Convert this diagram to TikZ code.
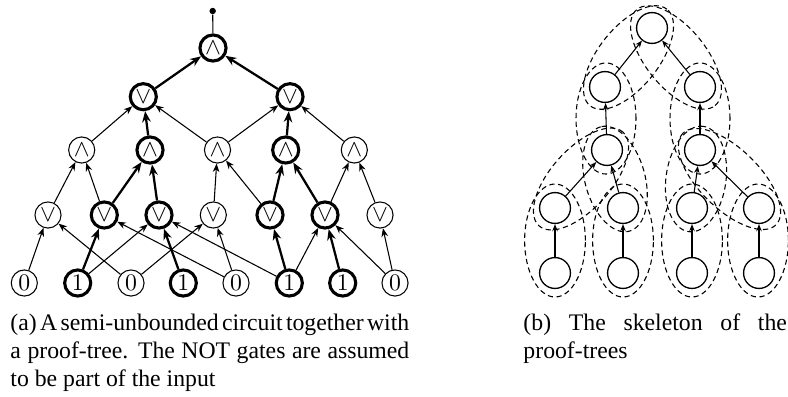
\documentclass[tikz,border=0pt]{standalone}
\usepackage{fontspec}
\setmainfont{Liberation Serif}
\usetikzlibrary{arrows.meta,calc}
\tikzset{
  gate/.style={circle, draw, line width=0.45pt, minimum size=11pt, inner sep=0pt},
  gatet/.style={gate, line width=1.3pt},
  wire/.style={line width=0.45pt, -{Stealth[length=3.6pt,width=2.8pt]}},
  wiret/.style={line width=0.95pt, -{Stealth[length=4.6pt,width=3.6pt]}},
  snode/.style={circle, draw, line width=0.55pt, minimum size=13pt, inner sep=0pt},
  swire/.style={line width=0.45pt, -{Stealth[length=3pt,width=2.3pt]}},
  skel/.style={line width=0.45pt, dash pattern=on 2.2pt off 1.5pt},
  captext/.style={anchor=north west, align=justify, inner sep=0pt, font=\fontsize{10}{11.9}\selectfont},
}
\newcommand\captsetup{\spaceskip=2.5pt plus 2pt minus 1.2pt\relax\hyphenpenalty=10000\relax}
\begin{document}
\begin{tikzpicture}[x=0.4213pt,y=-0.4213pt]
\useasboundingbox (0,0) rectangle (788,396);
% ---------------- (a) circuit ----------------
\node[gatet] (g0) at (213,48) {$\wedge$};
\node[circle, fill, inner sep=0pt, minimum size=2.7pt] (out) at (212.7,11) {};
\draw[line width=0.45pt] (g0) -- (out);
% level 2
\node[gatet] (o1) at (143.3,96.7) {$\vee$};
\node[gatet] (o2) at (290,96.7) {$\vee$};
% level 3
\node[gate]  (a1) at (81.7,150) {$\wedge$};
\node[gatet] (a2) at (150,150) {$\wedge$};
\node[gate]  (a3) at (217.5,150) {$\wedge$};
\node[gatet] (a4) at (285.7,150) {$\wedge$};
\node[gate]  (a5) at (354.3,150) {$\wedge$};
% level 4
\node[gate]  (v1) at (48,215) {$\vee$};
\node[gatet] (v2) at (104.3,215) {$\vee$};
\node[gatet] (v3) at (159,215) {$\vee$};
\node[gate]  (v4) at (213.3,215) {$\vee$};
\node[gatet] (v5) at (270,215) {$\vee$};
\node[gatet] (v6) at (325,215) {$\vee$};
\node[gate]  (v7) at (380,215) {$\vee$};
% inputs
\node[gate]  (i1) at (24.3,283) {$0$};
\node[gatet] (i2) at (77.7,283) {$1$};
\node[gate]  (i3) at (131,283) {$0$};
\node[gatet] (i4) at (183.3,283) {$1$};
\node[gate]  (i5) at (236,283) {$0$};
\node[gatet] (i6) at (289.3,283) {$1$};
\node[gatet] (i7) at (342.7,283) {$1$};
\node[gate]  (i8) at (395,283) {$0$};
% thick edges (proof tree)
\draw[wiret] (o1) -- (g0);
\draw[wiret] (o2) -- (g0);
\draw[wiret] (a2) -- (o1);
\draw[wiret] (a4) -- (o2);
\draw[wiret] (v2) -- (a2);
\draw[wiret] (v3) -- (a2);
\draw[wiret] (v5) -- (a4);
\draw[wiret] (v6) -- (a4);
\draw[wiret] (i2) -- (v2);
\draw[wiret] (i4) -- (v3);
\draw[wiret] (i6) -- (v5);
\draw[wiret] (i7) -- (v6);
% thin edges
\draw[wire] (a1) -- (o1);
\draw[wire] (a3) -- (o1);
\draw[wire] (a3) -- (o2);
\draw[wire] (a5) -- (o2);
\draw[wire] (v1) -- (a1);
\draw[wire] (v2) -- (a1);
\draw[wire] (v4) -- (a3);
\draw[wire] (v5) -- (a3);
\draw[wire] (v6) -- (a5);
\draw[wire] (v7) -- (a5);
\draw[wire] (i1) -- (v1);
\draw[wire] (i3) -- (v1);
\draw[wire] (i5) -- (v2);
\draw[wire] (i2) -- (v3);
\draw[wire] (i6) -- (v3);
\draw[wire] (i3) -- (v4);
\draw[wire] (i5) -- (v4);
\draw[wire] (i6) -- (v6);
\draw[wire] (i8) -- (v6);
\draw[wire] (i8) -- (v7);
% ---------------- (b) skeleton ----------------
\node[snode] (t)  at (652,28) {};
\node[snode] (b2a) at (605,87) {};
\node[snode] (b2b) at (700,87) {};
\node[snode] (b3a) at (607,150) {};
\node[snode] (b3b) at (700,150) {};
\node[snode] (b4a) at (555,208) {};
\node[snode] (b4b) at (623,208) {};
\node[snode] (b4c) at (692,208) {};
\node[snode] (b4d) at (759,208) {};
\node[snode] (b5a) at (555,273) {};
\node[snode] (b5b) at (623,273) {};
\node[snode] (b5c) at (692,273) {};
\node[snode] (b5d) at (759,273) {};
\draw[swire] (b2a) -- (t);
\draw[swire] (b2b) -- (t);
\draw[swire] (b3a) -- (b2a);
\draw[swire] (b3b) -- (b2b);
\draw[swire] (b4a) -- (b3a);
\draw[swire] (b4b) -- (b3a);
\draw[swire] (b4c) -- (b3b);
\draw[swire] (b4d) -- (b3b);
\draw[swire] (b5a) -- (b4a);
\draw[swire] (b5b) -- (b4b);
\draw[swire] (b5c) -- (b4c);
\draw[swire] (b5d) -- (b4d);
% dashed groupings
\draw[skel, rotate around={51.5:(628.5,57.5)}] (628.5,57.5) ellipse [x radius=26pt, y radius=12.64pt];
\draw[skel, rotate around={-50.9:(676,57.5)}] (676,57.5) ellipse [x radius=26.1pt, y radius=12.64pt];
\draw[skel] (606,118.5) ellipse [x radius=12.64pt, y radius=23.4pt];
\draw[skel] (700,118.5) ellipse [x radius=12.64pt, y radius=23.4pt];
\draw[skel, rotate around={48.1:(581,179)}] (581,179) ellipse [x radius=26.5pt, y radius=12.64pt];
\draw[skel, rotate around={105.4:(615,179)}] (615,179) ellipse [x radius=22.8pt, y radius=12.64pt];
\draw[skel, rotate around={82.1:(696,179)}] (696,179) ellipse [x radius=22.4pt, y radius=12.64pt];
\draw[skel, rotate around={135.5:(729.5,179)}] (729.5,179) ellipse [x radius=27.5pt, y radius=12.64pt];
\draw[skel] (555,240.5) ellipse [x radius=12.8pt, y radius=23.8pt];
\draw[skel] (623,240.5) ellipse [x radius=12.8pt, y radius=23.8pt];
\draw[skel] (692,240.5) ellipse [x radius=12.8pt, y radius=23.8pt];
\draw[skel] (758,240.5) ellipse [x radius=12.8pt, y radius=23.8pt];
% ---------------- captions ----------------
\node[captext, text width=168pt] (capa) at (10,313.5) {\captsetup (a) A semi-unbounded circuit together with\linebreak a proof-tree. The NOT gates are assumed\linebreak to be part of the input};
\node[captext, text width=111pt] (capb) at (523,313.5) {\captsetup (b) The skeleton of the\linebreak proof-trees};
\end{tikzpicture}
\end{document}
